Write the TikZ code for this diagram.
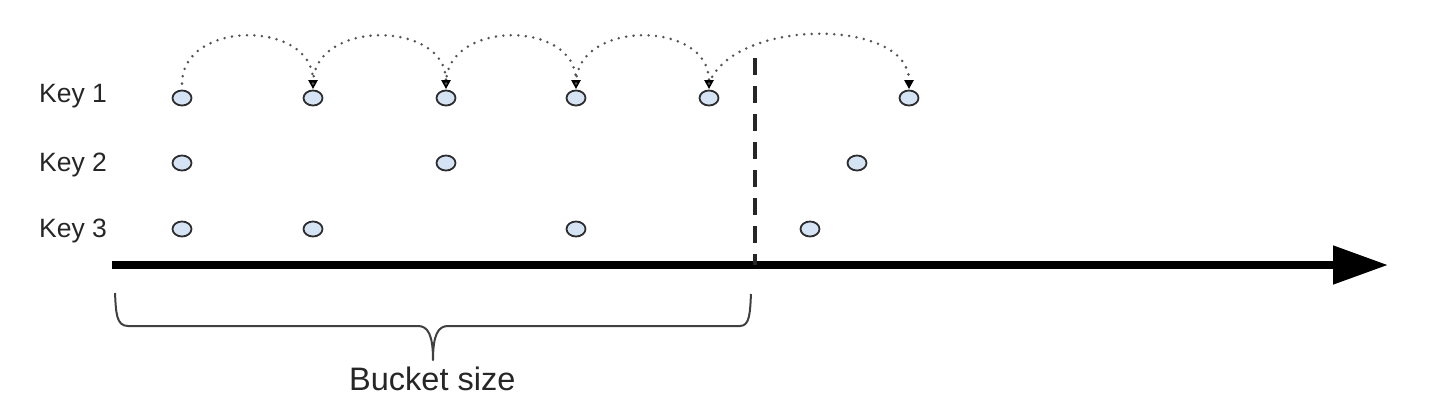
\documentclass[tikz,border=0pt]{standalone}
\usepackage{fontspec}
\setmainfont{Liberation Sans}
\usetikzlibrary{shapes.geometric,arrows.meta}
\definecolor{dotfill}{RGB}{212,228,245}
\definecolor{edgegray}{RGB}{45,45,45}
\definecolor{dotgray}{RGB}{85,85,85}
\tikzset{
  ev/.style={ellipse, draw=edgegray, line width=1.8pt, fill=dotfill, minimum width=19pt, minimum height=15pt, inner sep=0pt},
  keylabel/.style={anchor=base west, inner sep=0pt, font=\fontsize{26.5}{30}\selectfont, text=black!85},
  hop/.style={dotgray, line width=2.8pt, line cap=round, dash pattern=on 0pt off 7.5pt, -{Triangle[length=9pt,width=9pt,color=black,line cap=butt]}, shorten >=0.5pt},
}
\begin{document}
\begin{tikzpicture}[x=1pt,y=-1pt]
\useasboundingbox (0,0) rectangle (1446,416);
\fill[white] (0,0) rectangle (1446,416);
% labels
\node[keylabel] (l1) at (39,102) {Key 1};
\node[keylabel] (l2) at (39,171) {Key 2};
\node[keylabel] (l3) at (39,237) {Key 3};
% key 1 events
\node[ev] (a1) at (182,98) {};
\node[ev] (a2) at (313,98) {};
\node[ev] (a3) at (446,98) {};
\node[ev] (a4) at (576,98) {};
\node[ev] (a5) at (709,98) {};
\node[ev] (a6) at (909,98) {};
% key 2 events
\node[ev] (b1) at (182,163) {};
\node[ev] (b2) at (446,163) {};
\node[ev] (b3) at (857,163) {};
% key 3 events
\node[ev] (c1) at (182,229) {};
\node[ev] (c2) at (313,229) {};
\node[ev] (c3) at (576,229) {};
\node[ev] (c4) at (810,229) {};
% hops
\draw[hop] ([yshift=6pt]a1.north) .. controls +(0,-64) and +(0,-70) .. (a2.north);
\draw[hop] ([yshift=6pt]a2.north) .. controls +(0,-64) and +(0,-70) .. (a3.north);
\draw[hop] ([yshift=6pt]a3.north) .. controls +(0,-64) and +(0,-70) .. (a4.north);
\draw[hop] ([yshift=6pt]a4.north) .. controls +(0,-64) and +(0,-70) .. (a5.north);
\draw[hop] ([yshift=6pt]a5.north) .. controls +(25,-66) and +(0,-72) .. (a6.north);
% time axis
\coordinate (t0) at (112,265);
\coordinate (t1) at (1388,265);
\draw[line width=8pt, -{Triangle[length=55pt,width=37pt]}] (t0) -- (t1);
% bucket boundary
\coordinate (d0) at (755,58);
\coordinate (d1) at (755,265);
\draw[line width=3.5pt, dash pattern=on 17pt off 11pt, black!85] (d0) -- (d1);
% brace
\coordinate (br0) at (115,293);
\coordinate (br1) at (751,294);
\coordinate (brm) at (433,360);
\draw[line width=2pt, black!75, line join=round]
  (br0) .. controls (116,312) and (116,326) .. (128,326)
  -- (418,326) .. controls (428,326) and (433,335) .. (brm)
  .. controls (433,335) and (438,326) .. (448,326)
  -- (740,326) .. controls (750,326) and (750,312) .. (br1);
\node[anchor=base west, inner sep=0pt, font=\fontsize{32.5}{38}\selectfont, text=black!85] (bs) at (349,390) {Bucket size};
\end{tikzpicture}
\end{document}
